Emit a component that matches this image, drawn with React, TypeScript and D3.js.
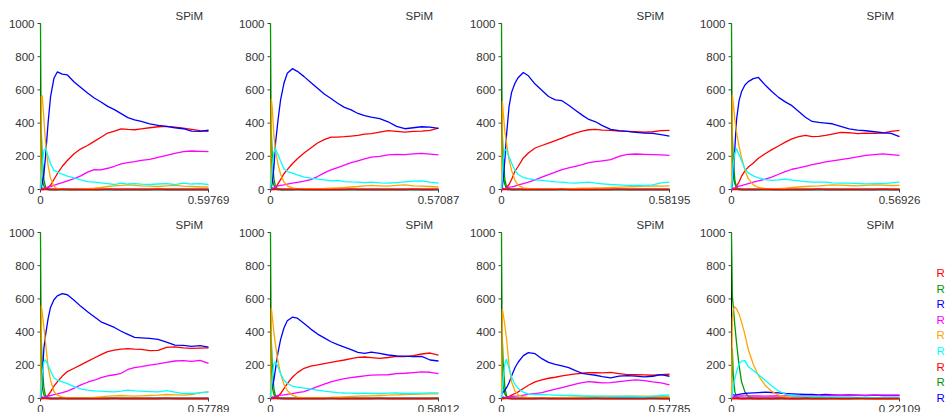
import React from "react";
import * as d3 from "d3";

// shared sampling grid: fraction of each panel's end time
const F = [0, 0.005, 0.01, 0.02, 0.03, 0.045, 0.06, 0.08, 0.1, 0.13, 0.16, 0.2, 0.24, 0.28, 0.32, 0.36, 0.4, 0.44, 0.48, 0.52, 0.56, 0.6, 0.65, 0.7, 0.75, 0.8, 0.85, 0.9, 0.95, 1.0];

const tMax = [0.59769, 0.57087, 0.58195, 0.56926, 0.57789, 0.58012, 0.57785, 0.22109];
const xEndLabels = ["0.59769", "0.57087", "0.58195", "0.56926", "0.57789", "0.58012", "0.57785", "0.22109"];
const yTicks = [0, 200, 400, 600, 800, 1000];
const panelTitle = "SPiM";
const legendLabels = ["R", "R", "R", "R", "R", "R", "R", "R", "R"];
const seriesColors = ["#ff0000", "#009900", "#0000ff", "#ff00ff", "#ffa500", "#00ffff", "#ff0000", "#009900", "#0000ff"];

const red = [
  [0,0,0,0,3,12,25,60,95,140,175,215,245,265,290,315,340,352,365,362,360,365,372,378,380,376,370,362,355,350],
  [0,0,0,2,10,35,60,95,120,155,185,220,250,280,300,316,316,318,322,326,334,336,345,355,350,346,350,352,356,370],
  [0,0,0,5,12,30,60,110,140,190,220,250,265,280,295,310,326,340,352,360,362,358,356,352,350,348,345,348,355,356],
  [0,0,2,6,20,45,80,112,135,160,188,215,240,262,285,305,318,326,318,320,326,334,344,342,336,340,338,340,350,356],
  [0,0,0,2,6,20,40,75,100,135,162,182,203,224,244,264,282,292,298,300,297,296,288,290,308,311,305,302,304,305],
  [0,0,0,2,5,12,30,60,90,128,156,182,195,202,210,218,225,232,240,248,250,246,242,247,254,252,258,268,274,262],
  [0,0,0,2,5,12,20,30,40,60,80,100,112,122,128,136,142,148,152,156,155,154,157,150,144,143,142,140,143,146],
  [0,0,0,0,0,1,0,0,2,0,0,1,0,0,2,0,0,3,0,0,0,2,0,0,0,3,0,0,0,0],
];

const green = [
  [1000,150,60,20,5,0,0,0,0,0,0,0,0,0,0,0,0,0,0,0,0,0,0,0,0,0,0,0,0,0],
  [1000,180,70,25,8,2,0,0,0,0,0,0,0,0,0,0,0,0,0,0,0,0,0,0,0,0,0,0,0,0],
  [1000,200,80,30,8,2,0,0,0,0,0,0,0,0,0,0,0,0,0,0,0,0,0,0,0,0,0,0,0,0],
  [1000,220,90,35,10,3,0,0,0,0,0,0,0,0,0,0,0,0,0,0,0,0,0,0,0,0,0,0,0,0],
  [1000,160,65,22,6,1,0,0,0,0,0,0,0,0,0,0,0,0,0,0,0,0,0,0,0,0,0,0,0,0],
  [1000,170,70,25,8,2,0,0,0,0,0,0,0,0,0,0,0,0,0,0,0,0,0,0,0,0,0,0,0,0],
  [1000,190,75,28,8,2,0,0,0,0,0,0,0,0,0,0,0,0,0,0,0,0,0,0,0,0,0,0,0,0],
  [1000,620,560,440,336,200,100,40,12,2,0,0,0,0,0,0,0,0,0,0,0,0,0,0,0,0,0,0,0,0],
];

const blue = [
  [0,15,35,90,200,400,560,670,708,695,690,648,614,581,551,527,501,481,457,433,420,410,396,386,380,372,366,352,350,357],
  [0,15,40,130,280,420,540,640,700,728,712,680,645,610,575,548,520,495,480,458,445,436,427,408,380,366,372,378,376,368],
  [0,20,60,180,330,500,585,640,675,705,685,635,598,560,540,535,508,478,448,422,408,385,362,355,350,344,340,338,330,322],
  [0,30,90,250,420,535,590,630,650,668,675,630,590,555,528,505,470,435,410,404,400,396,380,365,358,354,348,342,338,318],
  [0,30,120,300,380,480,550,595,618,632,625,592,555,522,492,462,445,428,405,386,368,365,362,356,340,322,320,314,318,310],
  [60,50,70,110,180,280,355,425,468,490,484,452,418,388,365,342,324,309,294,278,272,280,272,262,256,255,252,254,232,226],
  [30,30,38,50,65,95,135,185,220,258,276,270,240,218,206,196,186,168,152,145,140,132,124,135,138,135,130,134,144,134],
  [30,25,22,20,22,25,28,30,32,34,36,38,36,34,30,28,26,24,24,22,24,22,20,22,20,18,20,18,18,18],
];

const magenta = [
  [0,0,2,5,10,15,18,25,33,42,52,65,82,105,120,118,128,140,155,162,168,175,182,193,205,218,228,232,230,228],
  [0,0,3,10,18,22,25,28,32,38,43,50,60,78,100,118,132,147,162,173,184,195,199,208,211,210,214,218,213,208],
  [0,0,2,6,10,14,16,20,28,36,44,58,74,90,105,120,130,140,150,162,168,173,180,200,212,214,212,210,208,205],
  [0,0,3,8,14,20,24,30,36,45,52,62,75,92,108,122,130,140,150,158,166,172,180,188,196,205,210,214,210,205],
  [0,0,3,8,12,15,18,24,28,36,45,62,82,98,110,126,136,143,152,175,186,192,201,208,218,226,228,224,230,212],
  [0,0,3,10,15,18,20,22,25,30,35,42,56,72,86,100,110,120,126,131,136,141,142,143,150,152,156,160,158,150],
  [0,0,2,5,8,10,12,14,16,20,25,30,36,46,56,66,76,86,96,102,98,94,96,102,108,112,108,100,94,82],
  [0,5,10,12,14,15,15,16,16,15,15,14,15,15,16,16,15,16,16,17,17,18,18,18,19,19,20,20,20,20],
];

const orange = [
  [0,560,565,430,285,145,66,20,5,2,0,2,3,5,8,12,18,22,25,28,25,22,20,18,22,25,20,18,15,15],
  [0,545,500,330,235,150,92,45,22,10,5,3,3,5,6,8,10,12,15,18,22,25,22,20,25,28,22,20,18,15],
  [0,530,470,350,280,180,115,55,25,10,5,3,2,2,3,4,5,6,8,8,10,10,12,14,16,18,20,22,20,22],
  [0,570,520,420,345,260,190,118,65,28,12,6,4,5,8,12,15,18,20,22,25,28,26,24,22,25,28,26,24,25],
  [0,558,520,430,340,190,110,42,20,8,4,3,3,4,6,10,14,16,18,16,14,16,18,20,24,22,20,24,36,40],
  [0,545,500,400,320,220,150,85,48,20,8,4,3,4,5,6,8,10,12,14,15,16,18,20,22,24,25,26,28,28],
  [0,538,510,440,360,200,100,45,22,10,5,3,3,3,4,5,6,8,10,12,12,12,12,14,14,14,14,12,12,12],
  [0,480,535,552,540,508,460,385,295,205,138,80,42,20,10,4,2,0,0,0,0,0,0,0,0,0,0,0,0,0],
];

const cyan = [
  [0,60,150,235,250,200,155,115,105,92,80,70,58,48,44,40,35,30,38,33,35,32,30,33,35,30,38,33,36,30],
  [0,50,140,225,245,210,172,125,108,98,88,75,68,62,58,52,55,48,46,45,42,44,40,38,42,46,50,52,44,38],
  [0,80,180,240,235,195,160,115,90,72,65,58,55,50,46,44,40,38,42,44,38,34,30,28,25,24,25,28,40,44],
  [0,60,150,220,245,210,172,125,100,82,70,60,55,58,62,56,52,48,44,45,44,40,38,38,36,34,35,36,40,44],
  [0,60,150,220,232,200,165,125,110,100,90,72,58,50,46,44,42,40,44,50,46,44,42,40,48,38,30,30,34,40],
  [0,50,130,210,222,190,150,110,92,75,68,62,56,50,44,40,36,33,32,30,32,30,30,32,34,30,30,32,34,34],
  [0,50,120,210,236,180,130,85,60,38,26,24,24,22,20,18,18,18,16,15,14,14,14,13,14,12,10,14,18,22],
  [0,30,70,120,160,208,225,228,192,168,145,110,75,45,26,18,15,14,12,12,10,10,8,8,6,6,5,5,4,4],
];

const red2 = [
  [0,0,0,0,0,0,1,0,0,2,0,0,1,0,0,0,2,0,0,1,0,0,0,2,0,0,1,0,0,0],
  [0,0,0,0,0,1,0,0,0,0,2,0,0,0,1,0,0,0,2,0,0,1,0,0,0,0,2,0,0,1],
  [0,0,0,0,1,0,0,0,2,0,0,0,1,0,0,2,0,0,0,0,1,0,0,2,0,0,0,1,0,0],
  [0,0,0,0,0,0,0,1,0,0,0,2,0,0,0,1,0,0,0,2,0,0,1,0,0,0,0,2,0,0],
  [0,0,0,0,0,1,0,0,0,2,0,0,0,0,1,0,0,2,0,0,0,1,0,0,2,0,0,0,1,0],
  [0,0,0,0,0,0,2,0,0,0,1,0,0,0,0,2,0,0,1,0,0,0,2,0,0,1,0,0,0,2],
  [0,0,0,0,1,0,0,0,0,1,0,0,2,0,0,0,1,0,0,0,2,0,0,0,1,0,0,2,0,0],
  [0,0,0,0,0,0,0,0,1,0,0,0,0,2,0,0,0,0,1,0,0,0,0,0,2,0,0,0,0,1],
];

const green2 = [
  [0,340,200,60,15,3,0,0,0,0,0,0,0,0,0,0,0,0,0,0,0,0,0,0,0,0,0,0,0,0],
  [0,350,210,65,15,3,0,0,0,0,0,0,0,0,0,0,0,0,0,0,0,0,0,0,0,0,0,0,0,0],
  [0,336,200,60,15,3,0,0,0,0,0,0,0,0,0,0,0,0,0,0,0,0,0,0,0,0,0,0,0,0],
  [0,326,190,55,12,2,0,0,0,0,0,0,0,0,0,0,0,0,0,0,0,0,0,0,0,0,0,0,0,0],
  [0,351,210,65,15,3,0,0,0,0,0,0,0,0,0,0,0,0,0,0,0,0,0,0,0,0,0,0,0,0],
  [0,351,205,60,14,3,0,0,0,0,0,0,0,0,0,0,0,0,0,0,0,0,0,0,0,0,0,0,0,0],
  [0,355,215,65,16,3,0,0,0,0,0,0,0,0,0,0,0,0,0,0,0,0,0,0,0,0,0,0,0,0],
  [0,300,150,40,10,2,0,0,0,0,0,0,0,0,0,0,0,0,0,0,0,0,0,0,0,0,0,0,0,0],
];

const blue2 = [
  [0,5,8,5,2,0,0,0,0,0,0,0,0,0,0,0,0,0,0,0,0,0,0,0,0,0,0,0,0,0],
  [0,6,9,5,2,0,0,0,0,0,0,0,0,0,0,0,0,0,0,0,0,0,0,0,0,0,0,0,0,0],
  [0,5,7,4,1,0,0,0,0,0,0,0,0,0,0,0,0,0,0,0,0,0,0,0,0,0,0,0,0,0],
  [0,4,8,5,2,0,0,0,0,0,0,0,0,0,0,0,0,0,0,0,0,0,0,0,0,0,0,0,0,0],
  [0,6,8,4,1,0,0,0,0,0,0,0,0,0,0,0,0,0,0,0,0,0,0,0,0,0,0,0,0,0],
  [0,5,9,6,2,0,0,0,0,0,0,0,0,0,0,0,0,0,0,0,0,0,0,0,0,0,0,0,0,0],
  [0,5,8,5,2,0,0,0,0,0,0,0,0,0,0,0,0,0,0,0,0,0,0,0,0,0,0,0,0,0],
  [0,4,6,3,1,0,0,0,0,0,0,0,0,0,0,0,0,0,0,0,0,0,0,0,0,0,0,0,0,0],
];

const allSeries = [red, green, blue, magenta, orange, cyan, red2, green2, blue2];
const drawOrder = [7, 8, 0, 1, 2, 3, 4, 5, 6];

const W = 945;
const H = 412;
const colX = [40.5, 270.5, 501.5, 731.5];
const rowBase = [189.5, 398.5];
const plotW = 168;
const plotH = 166;
const font = "'Liberation Sans', Arial, sans-serif";
const textColor = "#333";

function Panel({ p }: { p: number }) {
  const x0 = colX[p % 4];
  const y0 = rowBase[Math.floor(p / 4)];
  const tm = tMax[p];
  const x = d3.scaleLinear().domain([0, tm]).range([x0, x0 + plotW]);
  const y = d3.scaleLinear().domain([0, 1000]).range([y0, y0 - plotH]);
  const line = d3
    .line<number>()
    .x((_, i) => x(F[i] * tm))
    .y((v) => y(v));
  return (
    <g>
      <line x1={x0} x2={x0} y1={y(0)} y2={y(1000)} stroke="#000" strokeWidth={1} />
      <line x1={x0} x2={x(tm)} y1={y0} y2={y0} stroke="#000" strokeWidth={1} />
      {yTicks.map((t) => (
        <g key={t}>
          <line x1={x0 - 3} x2={x0} y1={y(t)} y2={y(t)} stroke="#444" strokeWidth={1} />
          <text x={x0 - 6} y={y(t) + 4} textAnchor="end" fontSize={11.5} fill={textColor} fontFamily={font}>
            {t}
          </text>
        </g>
      ))}
      <line x1={x(0)} x2={x(0)} y1={y0} y2={y0 + 3} stroke="#444" />
      <line x1={x(tm)} x2={x(tm)} y1={y0} y2={y0 + 3} stroke="#444" />
      <text x={x(0)} y={y0 + 14.5} textAnchor="middle" fontSize={11.5} fill={textColor} fontFamily={font}>
        0
      </text>
      <text x={x(tm)} y={y0 + 14.5} textAnchor="middle" fontSize={11.5} fill={textColor} fontFamily={font}>
        {xEndLabels[p]}
      </text>
      <text x={x0 + 135} y={y(1000) - 4} fontSize={11.5} fill={textColor} fontFamily={font}>
        {panelTitle}
      </text>
      {drawOrder.map((s) => (
        <path key={s} d={line(allSeries[s][p]) || ""} fill="none" stroke={seriesColors[s]} strokeWidth={1.3} strokeLinejoin="round" />
      ))}
    </g>
  );
}

export default function App() {
  return (
    <svg
      width={W}
      height={H}
      style={{ position: "absolute", left: 0, top: 0, display: "block", background: "#fff" }}
    >
      <rect x={0} y={0} width={W} height={H} fill="#fff" />
      {tMax.map((_, p) => (
        <Panel key={p} p={p} />
      ))}
      {legendLabels.map((lab, i) => (
        <text key={i} x={936.5} y={277 + i * 15.6} fontSize={11.5} fill={seriesColors[i]} fontFamily={font}>
          {lab}
        </text>
      ))}
    </svg>
  );
}
